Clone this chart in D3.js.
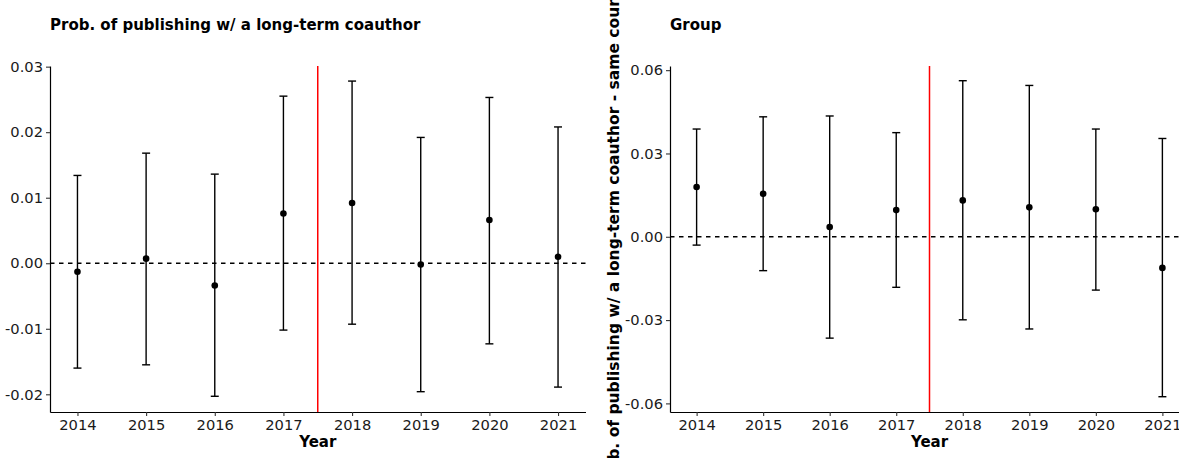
<!DOCTYPE html>
<html>
<head>
<meta charset="utf-8">
<script src="https://cdn.jsdelivr.net/npm/d3@7"></script>
<style>
  html, body { margin: 0; padding: 0; background: #fff; }
  svg { display: block; font-family: "DejaVu Sans", sans-serif; }
</style>
</head>
<body>
<svg id="chart" width="1179" height="458"></svg>
<script>
// ---- data ----
const years = [2014, 2015, 2016, 2017, 2018, 2019, 2020, 2021];

const leftEstimate = [-0.0013, 0.0007, -0.0034, 0.0076, 0.0092, -0.0002, 0.0066, 0.0010];
const leftLower    = [-0.0160, -0.0155, -0.0203, -0.0102, -0.0093, -0.0196, -0.0123, -0.0189];
const leftUpper    = [0.0134, 0.0168, 0.0136, 0.0255, 0.0278, 0.0192, 0.0253, 0.0208];

const rightEstimate = [0.0179, 0.0155, 0.0035, 0.0096, 0.0131, 0.0106, 0.0099, -0.0112];
const rightLower    = [-0.0030, -0.0122, -0.0365, -0.0182, -0.0299, -0.0332, -0.0192, -0.0576];
const rightUpper    = [0.0388, 0.0432, 0.0435, 0.0375, 0.0562, 0.0545, 0.0388, 0.0354];

const leftYTicks = [-0.02, -0.01, 0.00, 0.01, 0.02, 0.03];
const rightYTicks = [-0.06, -0.03, 0.00, 0.03, 0.06];
const xTicks = years;
const cutoffYear = 2017.5;

const leftTitle = "Prob. of publishing w/ a long-term coauthor";
const rightTitle = "Group";
const rightYLabel = "Prob. of publishing w/ a long-term coauthor - same country";
const xLabel = "Year";

// ---- drawing ----
const svg = d3.select("#chart");

function panel(cfg) {
  const g = svg.append("g");
  const x = d3.scaleLinear().domain([2013.6, 2021.4]).range([cfg.x0, cfg.x1]);
  const y = d3.scaleLinear().domain(cfg.yDomain).range([412, 66]);
  const rows = years.map((yr, i) => ({ yr, est: cfg.est[i], lo: cfg.lo[i], hi: cfg.hi[i] }));

  // zero dashed line
  g.append("line")
    .attr("x1", cfg.x0).attr("x2", cfg.x1)
    .attr("y1", y(0)).attr("y2", y(0))
    .attr("stroke", "#000").attr("stroke-width", 1.4)
    .attr("stroke-dasharray", "4.5,4.5");

  // red cutoff line
  g.append("line")
    .attr("x1", x(cutoffYear)).attr("x2", x(cutoffYear))
    .attr("y1", 66).attr("y2", 412)
    .attr("stroke", "#ff0000").attr("stroke-width", 1.5);

  // error bars
  const eb = g.append("g").selectAll("g").data(rows).join("g");
  eb.append("line")
    .attr("x1", d => x(d.yr)).attr("x2", d => x(d.yr))
    .attr("y1", d => y(d.lo)).attr("y2", d => y(d.hi))
    .attr("stroke", "#000").attr("stroke-width", 1.4);
  eb.append("line")
    .attr("x1", d => x(d.yr) - 4).attr("x2", d => x(d.yr) + 4)
    .attr("y1", d => y(d.hi)).attr("y2", d => y(d.hi))
    .attr("stroke", "#000").attr("stroke-width", 1.4);
  eb.append("line")
    .attr("x1", d => x(d.yr) - 4).attr("x2", d => x(d.yr) + 4)
    .attr("y1", d => y(d.lo)).attr("y2", d => y(d.lo))
    .attr("stroke", "#000").attr("stroke-width", 1.4);
  eb.append("circle")
    .attr("cx", d => x(d.yr)).attr("cy", d => y(d.est))
    .attr("r", 3.3).attr("fill", "#000");

  // axes
  const ya = g.append("g").attr("transform", `translate(${cfg.x0},0)`)
    .call(d3.axisLeft(y).tickValues(cfg.yTicks).tickSize(4).tickSizeOuter(0).tickPadding(3)
      .tickFormat(d => d.toFixed(2)));
  const xa = g.append("g").attr("transform", `translate(0,412)`)
    .call(d3.axisBottom(x).tickValues(xTicks).tickSize(4).tickSizeOuter(0).tickPadding(4)
      .tickFormat(d3.format("d")));
  [ya, xa].forEach(a => {
    a.select(".domain").attr("stroke", "#000").attr("stroke-width", 1.2);
    a.selectAll(".tick line").attr("stroke", "#333").attr("stroke-width", 1.1);
    a.selectAll(".tick text").attr("fill", "#1a1a1a")
      .style("font-size", "14.7px").style("font-family", "DejaVu Sans, sans-serif");
  });

  // title
  g.append("text")
    .attr("x", cfg.x0).attr("y", 30)
    .style("font-size", "15px").style("font-weight", "bold")
    .attr("fill", "#000")
    .text(cfg.title);

  // x label
  g.append("text")
    .attr("x", (cfg.x0 + cfg.x1) / 2).attr("y", 447)
    .attr("text-anchor", "middle")
    .style("font-size", "15px").style("font-weight", "bold")
    .attr("fill", "#000")
    .text(xLabel);

  if (cfg.yLabel) {
    g.append("text")
      .attr("transform", `translate(619,230) rotate(-90)`)
      .attr("text-anchor", "middle")
      .style("font-size", "15.5px").style("font-weight", "bold")
      .attr("fill", "#000")
      .text(cfg.yLabel);
  }
}

panel({ x0: 50, x1: 585.5, yDomain: [-0.0227, 0.0301], yTicks: leftYTicks,
        est: leftEstimate, lo: leftLower, hi: leftUpper, title: leftTitle });
panel({ x0: 670, x1: 1189, yDomain: [-0.0631, 0.0615], yTicks: rightYTicks,
        est: rightEstimate, lo: rightLower, hi: rightUpper, title: rightTitle, yLabel: rightYLabel });
</script>
</body>
</html>
